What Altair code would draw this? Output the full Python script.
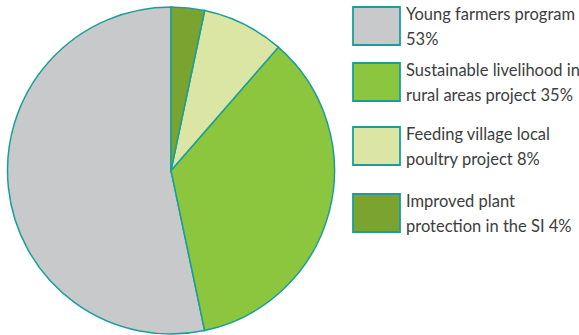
import altair as alt
import pandas as pd

categories = [
    "Young farmers program",
    "Sustainable livelihood in rural areas project",
    "Feeding village local poultry project",
    "Improved plant protection in the SI",
]
# slice sizes as drawn in the picture (percent of the circle)
shares = [53.3, 35.3, 8.1, 3.3]
# percentages printed in the legend
label_pct = [53, 35, 8, 4]
label_line1 = ["Young farmers program", "Sustainable livelihood in", "Feeding village local", "Improved plant"]
label_line2 = ["", "rural areas project", "poultry project", "protection in the SI"]
colors = ["#c8c9cb", "#8cc63f", "#dbe6a5", "#7ba32f"]

df = pd.DataFrame({
    "category": categories,
    "share": shares,
    "label": [a + "\n" + (b + " " if b else "") + f"{p}%" for a, b, p in zip(label_line1, label_line2, label_pct)],
    "idx": list(range(len(categories))),
})

teal = "#1a9f98"
color_scale = alt.Scale(domain=categories, range=colors)
y_scale = alt.Scale(domain=[0, 1, 2, 3], range=[26, 82, 146, 213])

base = alt.Chart(df)

pie = base.mark_arc(radius=163.5, stroke=teal, strokeWidth=1.5).encode(
    theta=alt.Theta("share:Q", stack=True),
    order=alt.Order("share:Q", sort="ascending"),
    color=alt.Color("category:N", scale=color_scale, legend=None),
    x=alt.value(171),
    y=alt.value(170.5),
)

boxes = base.mark_point(
    shape="M-1,-0.8085H1V0.8085H-1Z",
    filled=True,
    opacity=1,
    size=47 * 47,
    stroke=teal,
    strokeWidth=1.8,
).encode(
    x=alt.value(376.5),
    y=alt.Y("idx:Q", scale=y_scale, axis=None),
    fill=alt.Fill("category:N", scale=color_scale, legend=None),
)

labels = base.mark_text(
    align="left",
    baseline="top",
    dy=-19,
    lineBreak="\n",
    lineHeight=24.5,
    font="Lato",
    fontSize=16.5,
    color="#3d3d3d",
).encode(
    x=alt.value(406),
    y=alt.Y("idx:Q", scale=y_scale, axis=None),
    text="label:N",
)

chart = alt.layer(pie, boxes, labels).properties(
    width=579,
    height=335,
    autosize=alt.AutoSizeParams(type="none"),
    padding=0,
).configure_view(stroke=None)

chart.save("out.html", embed_options={"renderer": "svg", "actions": False})
